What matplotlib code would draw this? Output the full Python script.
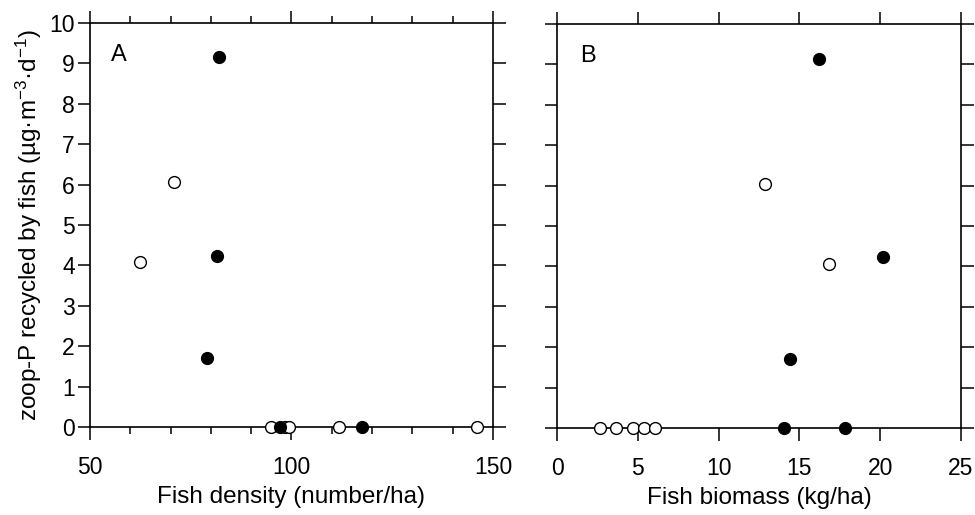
import matplotlib
matplotlib.use("Agg")
import matplotlib.pyplot as plt
from matplotlib.ticker import MultipleLocator

plt.rcParams['font.family'] = ['Liberation Sans', 'DejaVu Sans']
plt.rcParams['mathtext.fontset'] = 'custom'
plt.rcParams['mathtext.rm'] = 'Liberation Sans'
plt.rcParams['mathtext.it'] = 'Liberation Sans:italic'

# Panel A: fish density vs zoop-P recycled
dens_filled = [82, 81.5, 79, 97.2, 117.5]
dens_filled_y = [9.17, 4.23, 1.71, 0, 0]
dens_open = [70.8, 62.3, 94.8, 98.5, 99.4, 111.7, 146.1]
dens_open_y = [6.06, 4.08, 0, 0, 0, 0, 0]

# Panel B: fish biomass vs zoop-P recycled
bio_filled = [16.2, 20.15, 14.4, 14.05, 17.85]
bio_filled_y = [9.13, 4.22, 1.71, 0, 0]
bio_open = [12.9, 16.85, 2.66, 3.67, 4.68, 5.38, 6.06]
bio_open_y = [6.04, 4.06, 0, 0, 0, 0, 0]

fig = plt.figure(figsize=(9.75, 5.15), dpi=100)
axA = fig.add_axes([0.0923, 0.1709, 0.4133, 0.7845])
axB = fig.add_axes([0.5713, 0.1690, 0.4143, 0.7845])

FS = 16.5
LFS = 17.5
ms = 8.5

def style(ax):
    for s in ax.spines.values():
        s.set_linewidth(1.2)
    ax.tick_params(which='both', direction='out', top=True, right=True,
                   width=1.1, labelsize=FS)
    ax.tick_params(which='major', length=9)
    ax.tick_params(which='minor', length=5)
    ax.tick_params(axis='x', which='major', pad=12)
    ax.tick_params(axis='y', which='major', pad=2)
    ax.set_ylim(0, 10)
    ax.yaxis.set_major_locator(MultipleLocator(1))

# Panel A
axA.plot(dens_open, dens_open_y, 'o', ms=ms, mfc='white', mec='black', mew=1.0, clip_on=False, zorder=3)
axA.plot(dens_filled, dens_filled_y, 'o', ms=ms, mfc='black', mec='black', clip_on=False, zorder=4)
axA.set_xlim(50, 150)
axA.xaxis.set_major_locator(MultipleLocator(50))
axA.xaxis.set_minor_locator(MultipleLocator(10))
style(axA)
axA.set_xlabel('Fish density (number/ha)', fontsize=LFS, labelpad=5)
axA.set_ylabel('zoop-P recycled by fish (µg·m$^{-3}$·d$^{-1}$)', fontsize=LFS, labelpad=4)
axA.text(0.053, 0.92, 'A', transform=axA.transAxes, fontsize=17, va='center', ha='left')

# Panel B
axB.plot(bio_open, bio_open_y, 'o', ms=ms, mfc='white', mec='black', mew=1.0, clip_on=False, zorder=3)
axB.plot(bio_filled, bio_filled_y, 'o', ms=ms, mfc='black', mec='black', clip_on=False, zorder=4)
axB.set_xlim(0, 25)
axB.xaxis.set_major_locator(MultipleLocator(5))
style(axB)
axB.tick_params(labelleft=False)
axB.set_xlabel('Fish biomass (kg/ha)', fontsize=LFS, labelpad=5)
axB.text(0.058, 0.92, 'B', transform=axB.transAxes, fontsize=17, va='center', ha='left')

fig.savefig('out.png', dpi=100)
